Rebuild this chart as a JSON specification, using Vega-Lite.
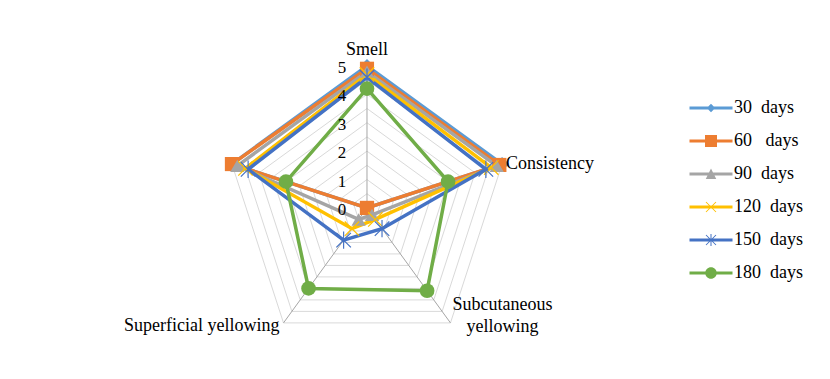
{
  "$schema": "https://vega.github.io/schema/vega-lite/v6.json",
  "width": 830,
  "height": 379,
  "autosize": {"type": "none"},
  "padding": 0,
  "background": "white",
  "config": {"view": {"stroke": null}, "font": "Liberation Serif", "text": {"font": "Liberation Serif", "color": "#000000"}},
  "datasets": {
    "series": [
      {"series": "30 days", "attribute": "Smell", "value": 5.0},
      {"series": "30 days", "attribute": "Consistency", "value": 5.0},
      {"series": "30 days", "attribute": "Subcutaneous yellowing", "value": 0},
      {"series": "30 days", "attribute": "Superficial yellowing", "value": 0},
      {"series": "30 days", "attribute": "Other", "value": 5.0},
      {"series": "60 days", "attribute": "Smell", "value": 4.9},
      {"series": "60 days", "attribute": "Consistency", "value": 4.9},
      {"series": "60 days", "attribute": "Subcutaneous yellowing", "value": 0},
      {"series": "60 days", "attribute": "Superficial yellowing", "value": 0},
      {"series": "60 days", "attribute": "Other", "value": 5.0},
      {"series": "90 days", "attribute": "Smell", "value": 4.8},
      {"series": "90 days", "attribute": "Consistency", "value": 4.8},
      {"series": "90 days", "attribute": "Subcutaneous yellowing", "value": 0.3},
      {"series": "90 days", "attribute": "Superficial yellowing", "value": 0.5},
      {"series": "90 days", "attribute": "Other", "value": 4.8},
      {"series": "120 days", "attribute": "Smell", "value": 4.7},
      {"series": "120 days", "attribute": "Consistency", "value": 4.6},
      {"series": "120 days", "attribute": "Subcutaneous yellowing", "value": 0.5},
      {"series": "120 days", "attribute": "Superficial yellowing", "value": 0.9},
      {"series": "120 days", "attribute": "Other", "value": 4.5},
      {"series": "150 days", "attribute": "Smell", "value": 4.6},
      {"series": "150 days", "attribute": "Consistency", "value": 4.4},
      {"series": "150 days", "attribute": "Subcutaneous yellowing", "value": 0.9},
      {"series": "150 days", "attribute": "Superficial yellowing", "value": 1.4},
      {"series": "150 days", "attribute": "Other", "value": 4.4},
      {"series": "180 days", "attribute": "Smell", "value": 4.2},
      {"series": "180 days", "attribute": "Consistency", "value": 3.0},
      {"series": "180 days", "attribute": "Subcutaneous yellowing", "value": 3.6},
      {"series": "180 days", "attribute": "Superficial yellowing", "value": 3.5},
      {"series": "180 days", "attribute": "Other", "value": 3.0}
    ],
    "cats": [
      {"attribute": "Smell", "label": "Smell"},
      {"attribute": "Consistency", "label": "Consistency"},
      {"attribute": "Subcutaneous yellowing", "label": "Subcutaneous\nyellowing"},
      {"attribute": "Superficial yellowing", "label": "Superficial yellowing"},
      {"attribute": "Other", "label": ""}
    ],
    "rings": [
      {"r": 0.5, "k": [0, 1, 2, 3, 4]},
      {"r": 1, "k": [0, 1, 2, 3, 4]},
      {"r": 1.5, "k": [0, 1, 2, 3, 4]},
      {"r": 2, "k": [0, 1, 2, 3, 4]},
      {"r": 2.5, "k": [0, 1, 2, 3, 4]},
      {"r": 3, "k": [0, 1, 2, 3, 4]},
      {"r": 3.5, "k": [0, 1, 2, 3, 4]},
      {"r": 4, "k": [0, 1, 2, 3, 4]},
      {"r": 4.5, "k": [0, 1, 2, 3, 4]},
      {"r": 5, "k": [0, 1, 2, 3, 4]}
    ],
    "tickvals": [{"t": 0}, {"t": 1}, {"t": 2}, {"t": 3}, {"t": 4}, {"t": 5}]
  },
  "encoding": {
    "x": {"field": "x", "type": "quantitative", "scale": {"domain": [-12.92, 16.30], "nice": false, "zero": false}, "axis": null},
    "y": {"field": "y", "type": "quantitative", "scale": {"domain": [-6.02, 7.32], "nice": false, "zero": false}, "axis": null}
  },
  "resolve": {"scale": {"shape": "independent", "color": "independent"}},
  "layer": [
    {
      "data": {"name": "rings"},
      "transform": [
        {"flatten": ["k"]},
        {"calculate": "datum.r * sin(2 * PI * datum.k / 5)", "as": "x"},
        {"calculate": "datum.r * cos(2 * PI * datum.k / 5)", "as": "y"}
      ],
      "mark": {"type": "line", "interpolate": "linear-closed", "color": "#d9d9d9", "strokeWidth": 1},
      "encoding": {"detail": {"field": "r", "type": "nominal"}, "order": {"field": "k", "type": "quantitative"}}
    },
    {
      "data": {"name": "cats"},
      "transform": [
        {"calculate": "indexof(['Smell','Consistency','Subcutaneous yellowing','Superficial yellowing','Other'], datum.attribute)", "as": "i"},
        {"calculate": "5 * sin(2 * PI * datum.i / 5)", "as": "x"},
        {"calculate": "5 * cos(2 * PI * datum.i / 5)", "as": "y"}
      ],
      "mark": {"type": "rule", "color": "#a6a6a6", "strokeWidth": 1},
      "encoding": {
        "x": {"datum": 0, "type": "quantitative", "scale": {"domain": [-12.92, 16.30], "nice": false, "zero": false}, "axis": null},
        "y": {"datum": 0, "type": "quantitative", "scale": {"domain": [-6.02, 7.32], "nice": false, "zero": false}, "axis": null},
        "x2": {"field": "x"},
        "y2": {"field": "y"}
      }
    },
    {
      "data": {"name": "series"},
      "transform": [
        {"calculate": "indexof(['Smell','Consistency','Subcutaneous yellowing','Superficial yellowing','Other'], datum.attribute)", "as": "i"},
        {"calculate": "datum.value * sin(2 * PI * datum.i / 5)", "as": "x"},
        {"calculate": "datum.value * cos(2 * PI * datum.i / 5)", "as": "y"}
      ],
      "mark": {"type": "line", "interpolate": "linear-closed", "strokeWidth": 3.5},
      "encoding": {
        "stroke": {"field": "series", "type": "nominal", "scale": {"domain": ["180 days", "150 days", "120 days", "90 days", "60 days", "30 days"], "range": ["#70AD47", "#4472C4", "#FFC000", "#A5A5A5", "#ED7D31", "#5B9BD5"]}, "legend": null},
        "order": {"field": "i", "type": "quantitative"}
      }
    },
    {
      "data": {"name": "series"},
      "transform": [
        {"calculate": "indexof(['Smell','Consistency','Subcutaneous yellowing','Superficial yellowing','Other'], datum.attribute)", "as": "i"},
        {"calculate": "datum.value * sin(2 * PI * datum.i / 5)", "as": "x"},
        {"calculate": "datum.value * cos(2 * PI * datum.i / 5)", "as": "y"}
      ],
      "mark": {"type": "point", "filled": true, "opacity": 1, "strokeWidth": 0},
      "encoding": {
        "fill": {
          "field": "series", "type": "nominal",
          "scale": {"domain": ["180 days", "150 days", "120 days", "90 days", "60 days", "30 days"], "range": ["#70AD47", "#4472C4", "#FFC000", "#A5A5A5", "#ED7D31", "#5B9BD5"]},
          "legend": null
        },
        "shape": {
          "field": "series", "type": "nominal",
          "scale": {"domain": ["180 days", "150 days", "120 days", "90 days", "60 days", "30 days"], "range": ["circle", "M-0.94,-1.06L1.06,0.94L0.94,1.06L-1.06,-0.94Z M-1.06,0.94L0.94,-1.06L1.06,-0.94L-0.94,1.06Z M-0.08,-1.2H0.08V1.2H-0.08Z", "M-0.94,-1.06L1.06,0.94L0.94,1.06L-1.06,-0.94Z M-1.06,0.94L0.94,-1.06L1.06,-0.94L-0.94,1.06Z", "triangle-up", "square", "diamond"]},
          "legend": null
        },
        "size": {
          "field": "series", "type": "nominal",
          "scale": {"domain": ["180 days", "150 days", "120 days", "90 days", "60 days", "30 days"], "range": [215, 196, 169, 130, 144, 85]},
          "legend": null
        }
      }
    },
    {
      "data": {"name": "series"},
      "transform": [
        {"filter": "false"},
        {"calculate": "0", "as": "x"},
        {"calculate": "0", "as": "y"}
      ],
      "mark": {"type": "point", "filled": true, "opacity": 1, "strokeWidth": 0},
      "encoding": {
        "color": {
          "field": "series", "type": "nominal",
          "scale": {"domain": ["30 days", "60 days", "90 days", "120 days", "150 days", "180 days"], "range": ["#5B9BD5", "#ED7D31", "#A5A5A5", "#FFC000", "#4472C4", "#70AD47"]},
          "legend": {
            "title": null, "orient": "none", "legendX": 702, "legendY": 99, "padding": 0,
            "labelFont": "Liberation Serif", "labelFontSize": 18, "labelColor": "#000000",
            "labelOffset": 14, "rowPadding": 15, "symbolSize": 100, "symbolOpacity": 1, "symbolStrokeWidth": 0,
            "labelExpr": "datum.label == '60 days' ? '60\u00a0\u00a0\u00a0days' : replace(datum.label, ' ', '\u00a0\u00a0')"
          }
        },
        "shape": {
          "field": "series", "type": "nominal",
          "scale": {"domain": ["30 days", "60 days", "90 days", "120 days", "150 days", "180 days"], "range": ["M-4.3,-0.32H4.3V0.32H-4.3Z M0,-0.85L0.85,0L0,0.85L-0.85,0Z", "M-4.3,-0.32H4.3V0.32H-4.3Z M-1.2,-1.2H1.2V1.2H-1.2Z", "M-4.3,-0.32H4.3V0.32H-4.3Z M0,-1.1L1.05,1L-1.05,1Z", "M-4.3,-0.32H4.3V0.32H-4.3Z M-0.93,-1.07L1.07,0.93L0.93,1.07L-1.07,-0.93Z M-1.07,0.93L0.93,-1.07L1.07,-0.93L-0.93,1.07Z", "M-4.3,-0.32H4.3V0.32H-4.3Z M-0.93,-1.07L1.07,0.93L0.93,1.07L-1.07,-0.93Z M-1.07,0.93L0.93,-1.07L1.07,-0.93L-0.93,1.07Z M-0.1,-1.2H0.1V1.2H-0.1Z", "M-4.3,-0.32H4.3V0.32H-4.3Z M-1.15,0A1.15,1.15,0,1,1,1.15,0A1.15,1.15,0,1,1,-1.15,0Z"]}
        }
      }
    },
    {
      "data": {"name": "cats"},
      "transform": [
        {"filter": "datum.attribute == 'Smell'"},
        {"calculate": "indexof(['Smell','Consistency','Subcutaneous yellowing','Superficial yellowing','Other'], datum.attribute)", "as": "i"},
        {"calculate": "5.55 * sin(2 * PI * datum.i / 5)", "as": "x"},
        {"calculate": "5.55 * cos(2 * PI * datum.i / 5)", "as": "y"}
      ],
      "mark": {"type": "text", "align": "center", "baseline": "middle", "fontSize": 18},
      "encoding": {"text": {"field": "label"}}
    },
    {
      "data": {"name": "cats"},
      "transform": [
        {"filter": "datum.attribute == 'Consistency'"},
        {"calculate": "indexof(['Smell','Consistency','Subcutaneous yellowing','Superficial yellowing','Other'], datum.attribute)", "as": "i"},
        {"calculate": "5 * sin(2 * PI * datum.i / 5)", "as": "x"},
        {"calculate": "5 * cos(2 * PI * datum.i / 5)", "as": "y"}
      ],
      "mark": {"type": "text", "align": "left", "baseline": "middle", "fontSize": 18, "dx": 4},
      "encoding": {"text": {"field": "label"}}
    },
    {
      "data": {"name": "cats"},
      "transform": [
        {"filter": "datum.attribute == 'Subcutaneous yellowing'"},
        {"calculate": "indexof(['Smell','Consistency','Subcutaneous yellowing','Superficial yellowing','Other'], datum.attribute)", "as": "i"},
        {"calculate": "5 * sin(2 * PI * datum.i / 5)", "as": "x"},
        {"calculate": "5 * cos(2 * PI * datum.i / 5)", "as": "y"}
      ],
      "mark": {"type": "text", "align": "center", "baseline": "top", "fontSize": 18, "dx": 52, "dy": -27, "lineBreak": "\n", "lineHeight": 22},
      "encoding": {"text": {"field": "label"}}
    },
    {
      "data": {"name": "cats"},
      "transform": [
        {"filter": "datum.attribute == 'Superficial yellowing'"},
        {"calculate": "indexof(['Smell','Consistency','Subcutaneous yellowing','Superficial yellowing','Other'], datum.attribute)", "as": "i"},
        {"calculate": "5 * sin(2 * PI * datum.i / 5)", "as": "x"},
        {"calculate": "5 * cos(2 * PI * datum.i / 5)", "as": "y"}
      ],
      "mark": {"type": "text", "align": "right", "baseline": "middle", "fontSize": 18, "dx": -4, "dy": 3},
      "encoding": {"text": {"field": "label"}}
    },
    {
      "data": {"name": "tickvals"},
      "transform": [
        {"calculate": "0", "as": "x"},
        {"calculate": "datum.t", "as": "y"},
        {"calculate": "'' + datum.t", "as": "tlabel"}
      ],
      "mark": {"type": "text", "align": "center", "baseline": "middle", "fontSize": 17, "dx": -25, "dy": 2},
      "encoding": {"text": {"field": "tlabel", "type": "nominal"}}
    }
  ]
}
